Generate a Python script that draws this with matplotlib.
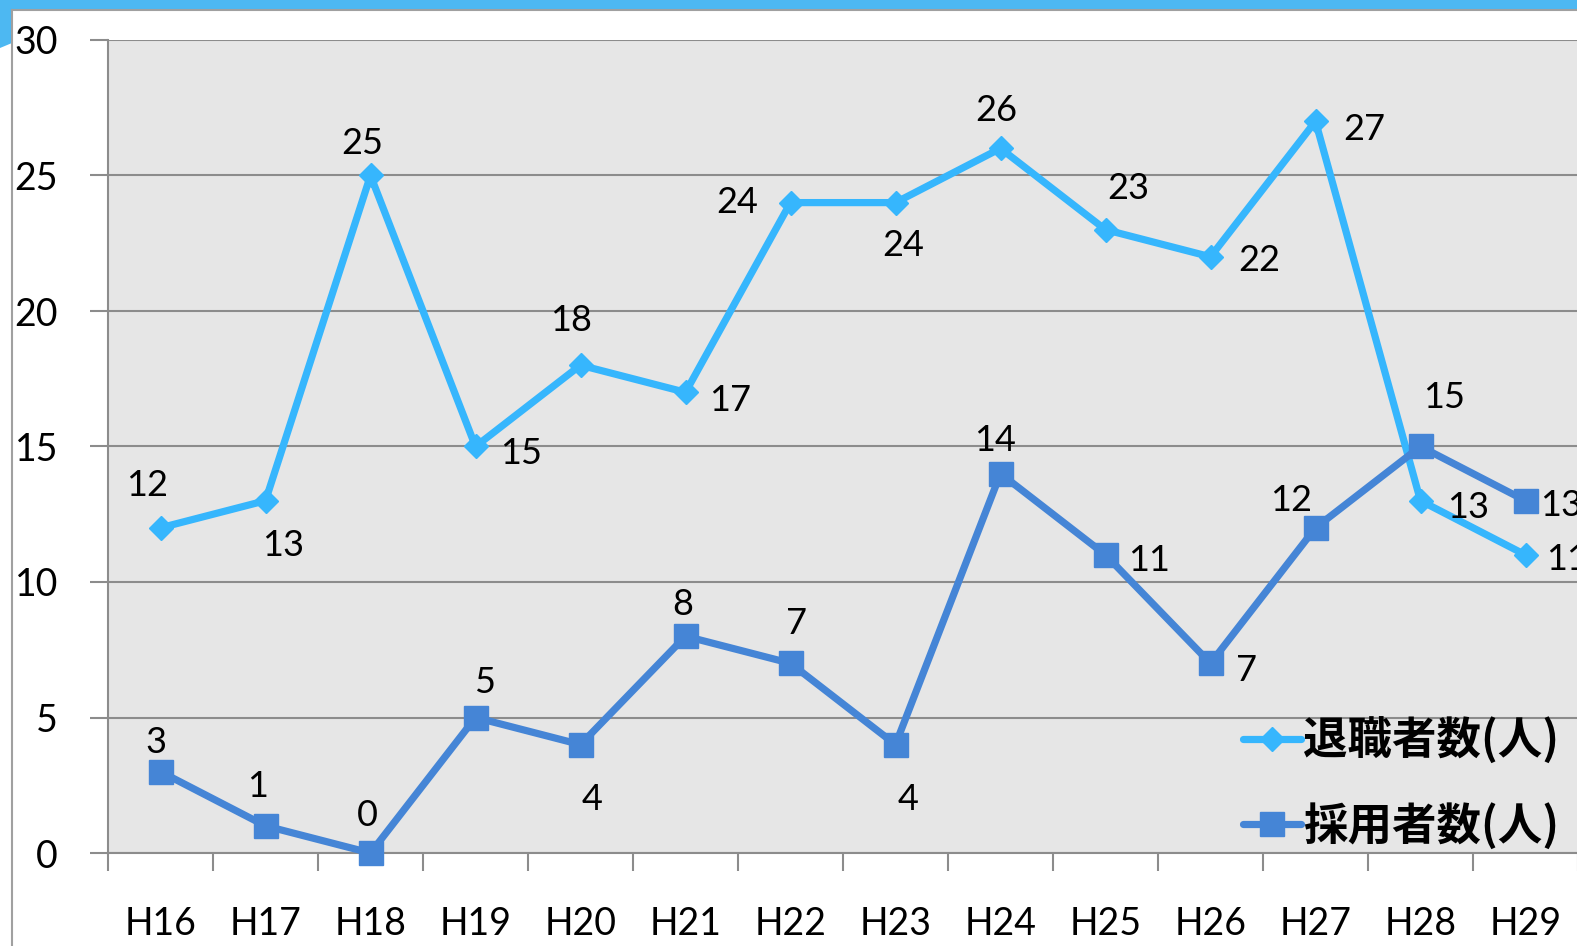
import matplotlib
matplotlib.use("Agg")
import matplotlib.pyplot as plt
from matplotlib.lines import Line2D
from matplotlib.patches import Polygon, Rectangle

# ---- data -----------------------------------------------------------------
years = ["H16", "H17", "H18", "H19", "H20", "H21", "H22",
         "H23", "H24", "H25", "H26", "H27", "H28", "H29"]
retired = [12, 13, 25, 15, 18, 17, 24, 24, 26, 23, 22, 27, 13, 11]
hired = [3, 1, 0, 5, 4, 8, 7, 4, 14, 11, 7, 12, 15, 13]

# label offsets (pixels) relative to each point -- style only
retired_off = [(-13, 42), (18, -45), (-8, 32), (46, -7), (-10, 45), (45, -8),
               (-53, 0), (8, -43), (-4, 38), (23, 41), (49, -4), (49, -8),
               (48, -7), (42, -5)]
hired_off = [(-5, 29), (-8, 39), (-3, 38), (9, 35), (12, -55), (-3, 32),
             (6, 40), (13, -55), (-6, 33), (44, -6), (36, -7), (-24, 27),
             (24, 49), (36, -5)]

RETIRE_C = "#36B6FD"
HIRE_C = "#4585D6"
GRID_C = "#8C8C8C"
BG_C = "#E6E6E6"
NUM_FONT = ["Lato", "DejaVu Sans"]
JP_FONT = ["Noto Sans CJK JP", "DejaVu Sans"]

W, H = 1577, 946
fig = plt.figure(figsize=(W / 100, H / 100), dpi=100)
fig.patch.set_facecolor("white")

# slide decoration: blue header bar + white panel border
fig.patches.append(Rectangle((0, 1 - 10 / H), 1, 10 / H, transform=fig.transFigure,
                             facecolor="#4DB8F2", edgecolor="none", zorder=0))
fig.patches.append(Polygon([(0, 1), (0, 1 - 48 / H), (12 / W, 1 - 43 / H), (12 / W, 1)],
                           closed=True, transform=fig.transFigure,
                           facecolor="#4DB8F2", edgecolor="none", zorder=0))
fig.add_artist(Line2D([12 / W, 12 / W], [0, 1 - 10 / H], transform=fig.transFigure,
                      color="#A0A0A0", lw=1.5))
fig.add_artist(Line2D([12 / W, 1], [1 - 10 / H, 1 - 10 / H], transform=fig.transFigure,
                      color="#A0A0A0", lw=1.5))

left, right = 108 / W, (108 + 105 * 14) / W
bottom, top = (H - 853) / H, (H - 40) / H
ax = fig.add_axes([left, bottom, right - left, top - bottom])
ax.set_facecolor(BG_C)

x = list(range(len(years)))
ax.plot(x, retired, color=RETIRE_C, lw=5.2, marker="D", ms=12,
        solid_joinstyle="miter", zorder=3, clip_on=False)
ax.plot(x, hired, color=HIRE_C, lw=5.2, marker="s", ms=17,
        solid_joinstyle="miter", zorder=4, clip_on=False)

for xi, v, off in zip(x, retired, retired_off):
    ax.annotate(str(v), (xi, v), xytext=off, textcoords="offset pixels",
                ha="center", va="center", fontsize=26, family=NUM_FONT,
                annotation_clip=False)
for xi, v, off in zip(x, hired, hired_off):
    ax.annotate(str(v), (xi, v), xytext=off, textcoords="offset pixels",
                ha="center", va="center", fontsize=26, family=NUM_FONT,
                annotation_clip=False)

ax.set_xlim(-0.5, len(years) - 0.5)
ax.set_ylim(0, 30)
ax.set_yticks(range(0, 31, 5))
ax.grid(axis="y", color=GRID_C, lw=1.5)
ax.set_axisbelow(True)

ax.set_xticks(x)
ax.set_xticklabels(years, fontsize=27, family=NUM_FONT)
ax.set_xticks([i - 0.5 for i in range(len(years) + 1)], minor=True)
ax.tick_params(axis="x", which="major", length=0, pad=38)
ax.tick_params(axis="x", which="minor", length=13, width=1.5, color=GRID_C)
ax.tick_params(axis="y", length=13, width=1.5, color=GRID_C, pad=23)
for lab in ax.get_yticklabels():
    lab.set_fontsize(27)
    lab.set_family(NUM_FONT)

for s in ("top", "right"):
    ax.spines[s].set_visible(False)
for s in ("left", "bottom"):
    ax.spines[s].set_color(GRID_C)
    ax.spines[s].set_linewidth(1.5)

handles = [
    Line2D([], [], color=RETIRE_C, lw=5.2, marker="D", ms=12,
           solid_capstyle="round"),
    Line2D([], [], color=HIRE_C, lw=5.2, marker="s", ms=17,
           solid_capstyle="round"),
]
leg = fig.legend(handles, ["退職者数(人)", "採用者数(人)"],
                 loc="upper left", bbox_to_anchor=(1225 / W, 1 - 700 / H),
                 frameon=False, handlelength=1.3, handletextpad=0.05,
                 labelspacing=0.85, borderaxespad=0,
                 prop={"family": JP_FONT, "size": 32, "weight": "bold"})

fig.savefig("out.png", dpi=100)
